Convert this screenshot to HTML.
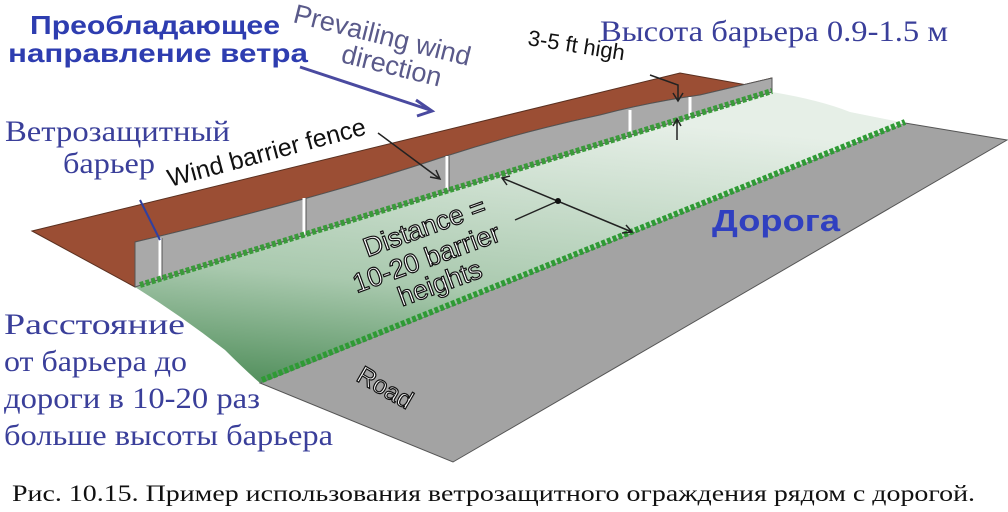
<!DOCTYPE html>
<html><head><meta charset="utf-8"><style>
html,body{margin:0;padding:0;background:#fff;}
svg{display:block;}
</style></head><body>
<svg width="1008" height="512" viewBox="0 0 1008 512" xmlns="http://www.w3.org/2000/svg">
<defs>
<linearGradient id="gr" x1="0" y1="1" x2="0.25" y2="0">
<stop offset="0" stop-color="#4a8a55"/><stop offset="0.4" stop-color="#a9c9ae"/><stop offset="1" stop-color="#e6efe7"/>
</linearGradient>
</defs>
<rect width="1008" height="512" fill="#fff"/>
<!-- road -->
<polygon points="260,383 905,123 1007,140 453,462" fill="#a3a3a3" stroke="#555" stroke-width="1"/>
<!-- green strip -->
<path d="M135,287 L772,92 Q820,100 850,112 Q880,118 905,123 L260,383 Q245,370 225,350 Q180,315 135,287 Z" fill="url(#gr)"/>
<!-- brown field -->
<path d="M32,231 L680,73 L747,85 L772,78 L700,95 Q650,102 600,115 Q520,132 440,158 Q380,178 300,200 Q220,222 135,242 L135,287 Z" fill="#9b4e34" stroke="#5a3020" stroke-width="1"/>
<!-- fence -->
<path d="M135,242 Q220,222 300,200 Q380,178 440,158 Q520,132 600,115 Q650,102 700,95 L772,78 L772,92 L135,287 Z" fill="#a9a9a9" stroke="#555" stroke-width="1"/>
<!-- posts -->
<g stroke="#fff" stroke-width="3"><line x1="160" y1="238" x2="160" y2="280"/><line x1="304" y1="198" x2="304" y2="235"/><line x1="447" y1="156" x2="447" y2="190"/><line x1="630" y1="110" x2="630" y2="134"/><line x1="690" y1="97" x2="690" y2="116"/></g>
<g stroke="#555" stroke-width="1"><line x1="162" y1="238" x2="162" y2="280"/><line x1="306" y1="198" x2="306" y2="235"/><line x1="449" y1="156" x2="449" y2="190"/></g>
<!-- grass lines -->
<line x1="140" y1="285" x2="772" y2="91" stroke="#3a9a3a" stroke-width="6" stroke-dasharray="4 2"/>
<line x1="262" y1="380" x2="905" y2="122" stroke="#2f9a35" stroke-width="6" stroke-dasharray="4 2"/>
<!-- arrows -->
<g stroke="#222" stroke-width="1.5" fill="none">
<line x1="378" y1="133" x2="440" y2="179"/><polyline points="430,177 440,179 436,170"/>
<line x1="502" y1="178" x2="632" y2="232"/><polyline points="510,176 502,178 507,185"/><polyline points="622,233 632,232 626,225"/>
<line x1="515" y1="220" x2="558" y2="201"/>
<polyline points="650,75 678,85 678,100"/><polyline points="673,93 678,101 683,93"/>
<line x1="677" y1="140" x2="677" y2="120"/><polyline points="673,126 677,119 681,126"/>
</g>
<circle cx="558" cy="201" r="3" fill="#111"/>
<line x1="300" y1="67" x2="430" y2="110" stroke="#4a4aa0" stroke-width="3"/>
<polyline points="416,100 432,111 417,116" stroke="#4a4aa0" stroke-width="3" fill="none"/>
<line x1="140" y1="200" x2="160" y2="240" stroke="#3040a0" stroke-width="2"/>
<!-- labels -->
<g font-family="Liberation Sans, sans-serif">
<text x="30" y="34" font-size="26" font-weight="bold" fill="#2e3db0" textLength="250" lengthAdjust="spacingAndGlyphs">Преобладающее</text>
<text x="8" y="62" font-size="26" font-weight="bold" fill="#2e3db0" textLength="300" lengthAdjust="spacingAndGlyphs">направление ветра</text>
<text x="292" y="22" font-size="27" fill="#5a5a8a" transform="rotate(14 292 22)">Prevailing wind</text>
<text x="340" y="62" font-size="27" fill="#5a5a8a" transform="rotate(14 340 62)">direction</text>
<text x="170" y="187" font-size="25" fill="#111" transform="rotate(-15 170 187)">Wind barrier fence</text>
<text x="527" y="45" font-size="22" fill="#111" transform="rotate(9 527 45)">3-5 ft high</text>
<text x="712" y="231" font-size="31" font-weight="bold" fill="#3040c0" textLength="128" lengthAdjust="spacingAndGlyphs">Дорога</text>
<g font-size="27" fill="#fff" stroke="#111" stroke-width="1.2" transform="rotate(-20 380 240)">
<text x="362" y="252">Distance =</text>
<text x="340" y="282">10-20 barrier</text>
<text x="378" y="310">heights</text>
</g>
<text x="355" y="380" font-size="25" fill="#fff" stroke="#111" stroke-width="1.2" transform="rotate(30 355 380)">Road</text>
</g>
<g font-family="Liberation Serif, serif" fill="#3a3f9a">
<text x="600" y="41" font-size="30" textLength="348" lengthAdjust="spacingAndGlyphs">Высота барьера 0.9-1.5 м</text>
<text x="5" y="141" font-size="30" textLength="225" lengthAdjust="spacingAndGlyphs">Ветрозащитный</text>
<text x="63" y="173" font-size="30" textLength="92" lengthAdjust="spacingAndGlyphs">барьер</text>
<text x="4" y="334" font-size="30" textLength="181" lengthAdjust="spacingAndGlyphs">Расстояние</text>
<text x="4" y="371" font-size="30" textLength="183" lengthAdjust="spacingAndGlyphs">от барьера до</text>
<text x="4" y="408" font-size="30" textLength="256" lengthAdjust="spacingAndGlyphs">дороги в 10-20 раз</text>
<text x="4" y="445" font-size="30" textLength="329" lengthAdjust="spacingAndGlyphs">больше высоты барьера</text>
</g>
<text x="12" y="501" font-family="Liberation Serif, serif" font-size="23" fill="#111" textLength="963" lengthAdjust="spacingAndGlyphs">Рис. 10.15. Пример использования ветрозащитного ограждения рядом с дорогой.</text>
</svg>
</body></html>
